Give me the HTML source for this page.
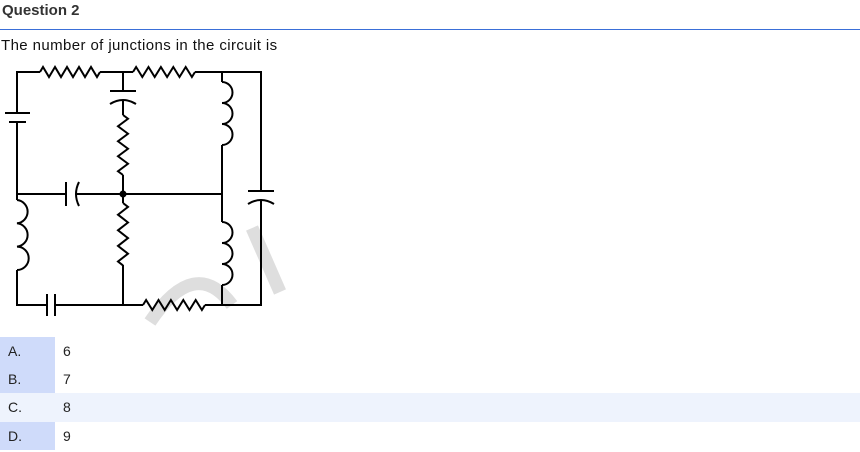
<!DOCTYPE html>
<html><head><meta charset="utf-8"><style>
body{margin:0;width:860px;height:452px;background:#fff;font-family:"Liberation Sans",sans-serif;color:#222;overflow:hidden;position:relative}
.h{position:absolute;left:2px;top:2px;font-size:15px;font-weight:bold;color:#333}
.sep{position:absolute;left:0;top:29px;width:860px;height:1px;background:#3a6fd8}
.q{position:absolute;left:1px;top:37px;font-size:15px;color:#111;letter-spacing:0.4px}
.row{position:absolute;left:0;width:860px;height:28px;font-size:14px}
.lab{position:absolute;left:0;top:0;width:55px;height:100%;background:#cfdbfa}
.lab span{position:absolute;left:8px;top:6px}
.val{position:absolute;left:63px;top:6px}
</style></head><body>
<div class="h">Question 2</div>
<div class="sep"></div>
<div class="q">The number of junctions in the circuit is</div>
<svg width="300" height="300" style="position:absolute;left:0;top:50px" viewBox="0 50 300 300">
<g fill="none" stroke="#dedede" stroke-width="13">
<path d="M150,322 Q195,255 232,305"/><path d="M252,228 L280,292"/>
</g>
<g fill="none" stroke="#000" stroke-width="2">
<path d="M17,113 V72 H40 M100,72 H133 M195,72 H261 V191 M261,201 V305 H205 M143,305 H55 M47,305 H17 V270 M17,200 V122 M123,72 V91 M123,101 V115 M123,175 V203 M123,265 V305 M222,72 V82 M222,145 V222 M222,285 V305 M17,194 H66 M76,194 H222"/>
<path d="M40,72 l3,-5 l6,10 l3,-5 l3,-5 l6,10 l3,-5 l3,-5 l6,10 l3,-5 l3,-5 l6,10 l3,-5 l3,-5 l6,10 l3,-5"/>
<path d="M133,72 l3.1,-5 l6.2,10 l3.1,-5 l3.1,-5 l6.2,10 l3.1,-5 l3.1,-5 l6.2,10 l3.1,-5 l3.1,-5 l6.2,10 l3.1,-5 l3.1,-5 l6.2,10 l3.1,-5"/>
<path d="M143,305 l3.1,-5 l6.2,10 l3.1,-5 l3.1,-5 l6.2,10 l3.1,-5 l3.1,-5 l6.2,10 l3.1,-5 l3.1,-5 l6.2,10 l3.1,-5 l3.1,-5 l6.2,10 l3.1,-5"/>
<path d="M123,115 l5,3.75 l-10,7.5 l5,3.75 l5,3.75 l-10,7.5 l5,3.75 l5,3.75 l-10,7.5 l5,3.75 l5,3.75 l-10,7.5 l5,3.75"/>
<path d="M123,203 l5,3.9 l-10,7.8 l5,3.9 l5,3.9 l-10,7.8 l5,3.9 l5,3.9 l-10,7.8 l5,3.9 l5,3.9 l-10,7.8 l5,3.9"/>
<path d="M222,82 a10.5,10.5 0 0 1 0,21 a10.5,10.5 0 0 1 0,21 a10.5,10.5 0 0 1 0,21"/>
<path d="M222,222 a10.5,10.5 0 0 1 0,21 a10.5,10.5 0 0 1 0,21 a10.5,10.5 0 0 1 0,21"/>
<path d="M17,200 a11.7,11.7 0 0 1 0,23.3 a11.7,11.7 0 0 1 0,23.3 a11.7,11.7 0 0 1 0,23.4"/>
<path d="M5,113 H30 M9,122 H26"/>
<path d="M110,91 H136 M110,104 Q123,96 136,104"/>
<path d="M248,191 H274 M248,204 Q261,196 274,204"/>
<path d="M66,182 V206 M79,182 Q73,194 79,206"/>
<path d="M47,294 V316 M55,294 V316"/>
</g>
<circle cx="123" cy="194" r="3.5" fill="#000"/>
</svg>
<div class="row" style="top:337px"><div class="lab"><span>A.</span></div><div class="val">6</div></div>
<div class="row" style="top:365px"><div class="lab"><span>B.</span></div><div class="val">7</div></div>
<div class="row" style="top:393px;background:#eef3fd;height:29px"><div class="lab" style="background:#eef3fd"><span>C.</span></div><div class="val">8</div></div>
<div class="row" style="top:422px"><div class="lab"><span>D.</span></div><div class="val">9</div></div>
</body></html>
